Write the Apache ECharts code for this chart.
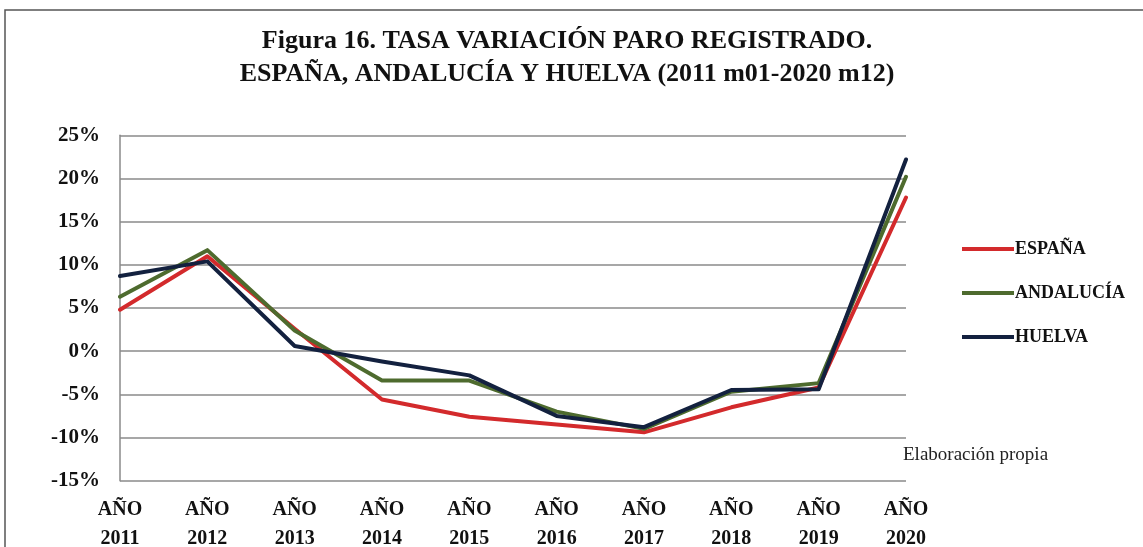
<!DOCTYPE html>
<html><head><meta charset="utf-8">
<script src="https://cdn.jsdelivr.net/npm/echarts@6/dist/echarts.min.js"></script>
<style>html,body{margin:0;padding:0;background:#fff}#c{width:1143px;height:547px}</style>
</head><body><div id="c"></div>
<script>
const categories = ['AÑO\n2011','AÑO\n2012','AÑO\n2013','AÑO\n2014','AÑO\n2015','AÑO\n2016','AÑO\n2017','AÑO\n2018','AÑO\n2019','AÑO\n2020'];
const espana    = [4.8, 11.0, 2.6, -5.6, -7.6, -8.5, -9.4, -6.5, -4.2, 17.8];
const andalucia = [6.3, 11.7, 2.4, -3.4, -3.4, -7.0, -9.0, -4.7, -3.7, 20.2];
const huelva    = [8.7, 10.4, 0.6, -1.2, -2.8, -7.5, -8.8, -4.5, -4.4, 22.2];
const titleLines = ['Figura 16. TASA VARIACIÓN PARO REGISTRADO.', 'ESPAÑA, ANDALUCÍA Y HUELVA (2011 m01-2020 m12)'];
const note = 'Elaboración propia';

const serif = '"Liberation Serif", "DejaVu Serif", serif';
const chart = echarts.init(document.getElementById('c'));
const mk = (name, data, color) => ({
  name, type: 'line', data, symbol: 'none', smooth: false,
  lineStyle: { color, width: 4, cap: 'round', join: 'round' }, itemStyle: { color }
});
chart.setOption({
  animation: false,
  backgroundColor: '#fff',
  title: {
    text: titleLines.join('\n'), left: 562, textAlign: 'center', top: 20,
    textStyle: { fontFamily: serif, fontWeight: 'bold', fontSize: 26, lineHeight: 33, color: '#111' }
  },
  legend: {
    orient: 'vertical', left: 957, top: 235, itemGap: 26, itemWidth: 52, itemHeight: 4,
    icon: 'rect',
    textStyle: { fontFamily: serif, fontWeight: 'bold', fontSize: 18, color: '#111', padding: [0, 0, 0, -4] },
    data: ['ESPAÑA', 'ANDALUCÍA', 'HUELVA']
  },
  grid: { left: 120, right: 237, top: 135.3, bottom: 66.3, containLabel: false, outerBoundsMode: 'none' },
  xAxis: {
    type: 'category', data: categories, boundaryGap: false,
    axisLine: { show: false }, axisTick: { show: false },
    axisLabel: { fontFamily: serif, fontWeight: 'bold', fontSize: 20, lineHeight: 29, color: '#111', margin: 15 }
  },
  yAxis: {
    type: 'value', min: -15, max: 25, interval: 5,
    axisLine: { show: true, lineStyle: { color: '#8a8a8a', width: 1.5 } }, axisTick: { show: false },
    splitLine: { lineStyle: { color: '#8a8a8a', width: 1.5 } },
    axisLabel: { formatter: '{value}%', fontFamily: serif, fontWeight: 'bold', fontSize: 21, color: '#111', margin: 20 }
  },
  graphic: [
    { type: 'rect', shape: { x: 5, y: 10, width: 1150, height: 560 }, style: { fill: 'none', stroke: '#555', lineWidth: 1.5 }, silent: true, z: 100 },
    { type: 'text', left: 884, top: 444, style: { text: note, fontFamily: serif, fontSize: 19, fill: '#222', backgroundColor: '#fff', padding: [2, 4, 2, 19] }, z: 50 }
  ],
  series: [
    mk('ESPAÑA', espana, '#d32a2c'),
    mk('ANDALUCÍA', andalucia, '#4e6b2e'),
    mk('HUELVA', huelva, '#13213f')
  ]
});
</script></body></html>
